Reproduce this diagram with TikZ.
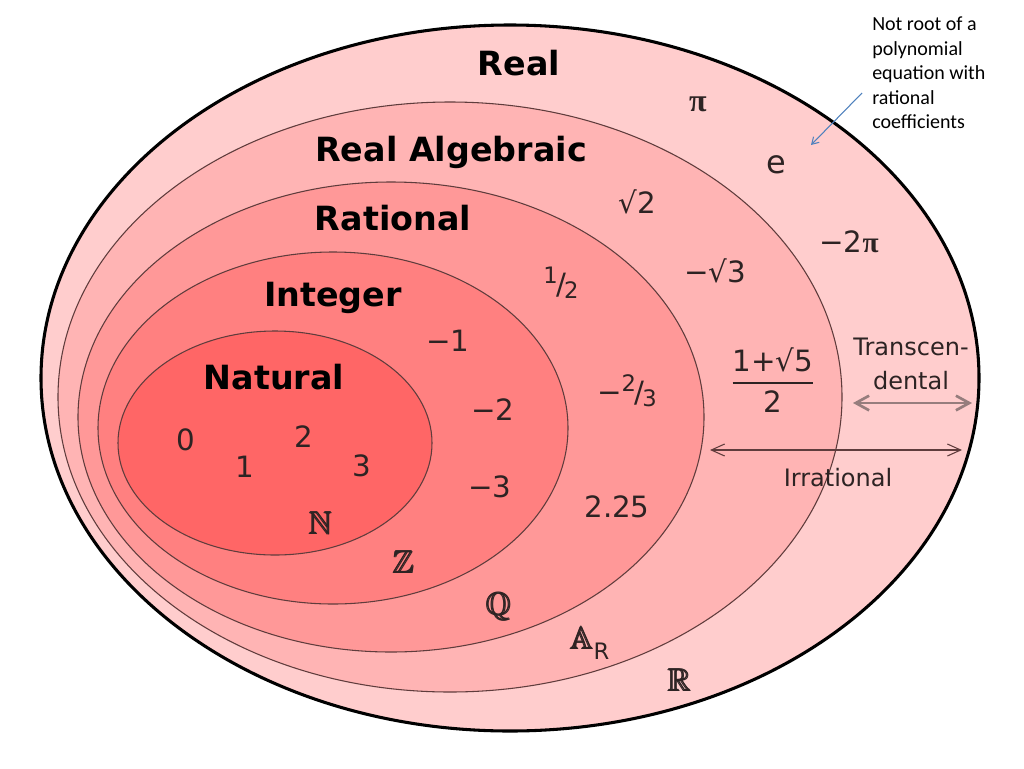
\documentclass[tikz,border=0pt]{standalone}
\usepackage{amsmath,amssymb}
\usepackage{fontspec}
\setmainfont{DejaVu Sans}
\newfontfamily\notefont{Carlito}
\newfontfamily\pifont{Liberation Serif}
\usetikzlibrary{arrows.meta}

\definecolor{realfill}{RGB}{255,205,205}
\definecolor{algfill}{RGB}{255,180,180}
\definecolor{ratfill}{RGB}{255,152,152}
\definecolor{intfill}{RGB}{255,128,128}
\definecolor{natfill}{RGB}{255,102,102}
\definecolor{edgegray}{RGB}{95,60,60}
\definecolor{elemgray}{RGB}{45,35,35}
\definecolor{transgray}{RGB}{150,125,125}
\definecolor{noteblue}{RGB}{79,129,189}

% slanted fraction like 1/2
\newcommand{\slfrac}[2]{\raisebox{.36em}{\fontsize{17}{17}\selectfont #1}\kern-.06em/\kern-.06em\raisebox{-.14em}{\fontsize{17}{17}\selectfont #2}}
% heavy double-struck letter
\newcommand{\bbsym}[1]{$\pmb{\mathbb{#1}}$}
\newcommand{\piup}{{\pifont\bfseries π}}

\tikzset{
  setname/.style={font=\fontsize{25}{25}\selectfont\bfseries},
  setelem/.style={font=\fontsize{22}{22}\selectfont, text=elemgray},
  setsym/.style={font=\fontsize{24}{24}\selectfont, text=elemgray},
  setedge/.style={draw=edgegray, line width=0.8pt},
  smalltext/.style={font=\fontsize{18}{26}\selectfont, text=elemgray, align=center},
}

\begin{document}
\begin{tikzpicture}[x=0.75pt,y=0.75pt,yscale=-1,xscale=1]
\useasboundingbox (0,0) rectangle (1024,768);

%Shape: Ellipse [Real]
\draw [line width=2.3pt, fill=realfill] (510,378) ellipse (469 and 353);
%Shape: Ellipse [Real Algebraic]
\draw [setedge, fill=algfill] (450,397) ellipse (392 and 295);
%Shape: Ellipse [Rational]
\draw [setedge, fill=ratfill] (391,417) ellipse (313 and 235);
%Shape: Ellipse [Integer]
\draw [setedge, fill=intfill] (333,428) ellipse (235 and 176);
%Shape: Ellipse [Natural]
\draw [setedge, fill=natfill] (275,443) ellipse (157 and 112);

% Text Node
\node [setname] (real) at (519,63) {Real};
\node [setname] (realalg) at (451,152) {Real Algebraic};
\node [setname] (rational) at (393,218) {Rational};
\node [setname] (integer) at (333,298) {Integer};
\node [setname] (natural) at (274,377) {Natural};

% Text Node
\node [setelem] (nzero) at (186,440) {0};
\node [setelem] (none) at (245,467) {1};
\node [setelem] (ntwo) at (304,437) {2};
\node [setelem] (nthree) at (362,466) {3};
\node [setsym] (nsym) at (321,523) {\bbsym{N}};

% Text Node
\node [setelem] (zone) at (448,341) {−1};
\node [setelem] (ztwo) at (493,410) {−2};
\node [setelem] (zthree) at (490,487) {−3};
\node [setsym] (zsym) at (404,562) {\bbsym{Z}};

% Text Node
\node [setelem] (qhalf) at (561,283) {\slfrac{1}{2}};
\node [setelem] (qthird) at (627,391) {−\slfrac{2}{3}};
\node [setelem] (qdec) at (617,507) {2.25};
\node [setsym] (qsym) at (499,607) {\bbsym{Q}};

% Text Node
\node [setelem] (aroot) at (637,202) {√2};
\node [setelem] (aneg) at (715,271) {−√3};
\node [setelem] (agold) at (773,380) {$\genfrac{}{}{1.6pt}{0}{\mbox{1+√5}}{\mbox{2}}$};
\node [setsym] (asym) at (590,643) {\bbsym{A}\raisebox{-.3em}{\fontsize{17}{17}\selectfont R}};

% Text Node
\node [setsym] (rpi) at (698,104) {\piup};
\node [setsym] (re) at (776,165) {e};
\node [setelem] (rtwopi) at (849,242) {−2\piup};
\node [setsym] (rsym) at (680,680) {\bbsym{R}};

% Text Node
\node [smalltext] (transc) at (911,364) {Transcen-\\dental};
\node [smalltext] (irrat) at (838,478) {Irrational};

%Straight Lines [transcendental]
\coordinate (transL) at (853,403);
\coordinate (transR) at (972,403);
\draw [transgray, line width=2pt, {Straight Barb[length=10pt,width=11pt]}-{Straight Barb[length=10pt,width=11pt]}] (transL) -- (transR);

%Straight Lines [irrational]
\coordinate (irratL) at (710,450);
\coordinate (irratR) at (962,450);
\draw [edgegray, line width=0.8pt, {Straight Barb[length=10pt,width=9pt]}-{Straight Barb[length=10pt,width=9pt]}] (irratL) -- (irratR);

% Text Node
\node [anchor=north west, align=left, inner sep=0pt, font=\notefont\fontsize{15}{18.3}\selectfont] (note) at (872,17) {Not root of a\\polynomial\\equation with\\rational\\coefficients};

%Curve Lines [note arrow]
\coordinate (noteTail) at (862,93);
\coordinate (noteTip) at (811,145);
\draw [noteblue, line width=0.8pt, -{Straight Barb[length=5pt,width=6pt]}] (noteTail) -- (noteTip);

\end{tikzpicture}
\end{document}
